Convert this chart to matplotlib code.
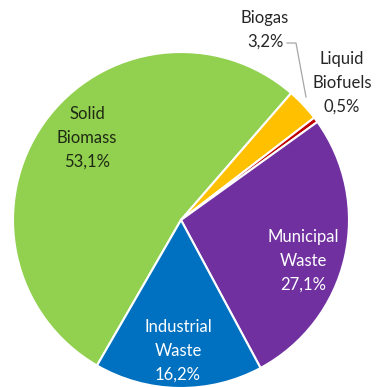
import matplotlib
matplotlib.use("Agg")
import matplotlib.pyplot as plt

categories = ["Solid\nBiomass", "Biogas", "Liquid\nBiofuels", "Municipal\nWaste", "Industrial\nWaste"]
values = [53.1, 3.2, 0.5, 27.1, 16.2]
colors = ["#92D050", "#FFC000", "#C00000", "#7030A0", "#0070C0"]

W, H = 376, 387
fig = plt.figure(figsize=(W / 100, H / 100), dpi=100)
ax = fig.add_axes([0, 0, 1, 1])

cx, cy, r = 181, H - 220, 168
wedges, _ = ax.pie(values, colors=colors, startangle=240, counterclock=False,
                   center=(cx, cy), radius=r, frame=True,
                   wedgeprops=dict(edgecolor="white", linewidth=1.5))
ax.set_xlim(0, W)
ax.set_ylim(0, H)
ax.axis("off")

font = "Lato"
fs = 12
lbl_pos = [(87, 138), (265, 30), (342, 83), (303, 261), (178, 351)]
lbl_col = ["#1e2a14", "#262626", "#262626", "white", "white"]
for cat, v, (x, y), c in zip(categories, values, lbl_pos, lbl_col):
    txt = cat + "\n" + f"{v:.1f}".replace(".", ",") + "%"
    ax.text(x, H - y, txt, ha="center", va="center", fontsize=fs, color=c,
            family=font, linespacing=1.62)

# leader line for Biogas
ax.plot([287, 296, 306], [H - 43, H - 43, H - 97], color="#a6a6a6", lw=0.9)

fig.savefig("out.png", dpi=100)
